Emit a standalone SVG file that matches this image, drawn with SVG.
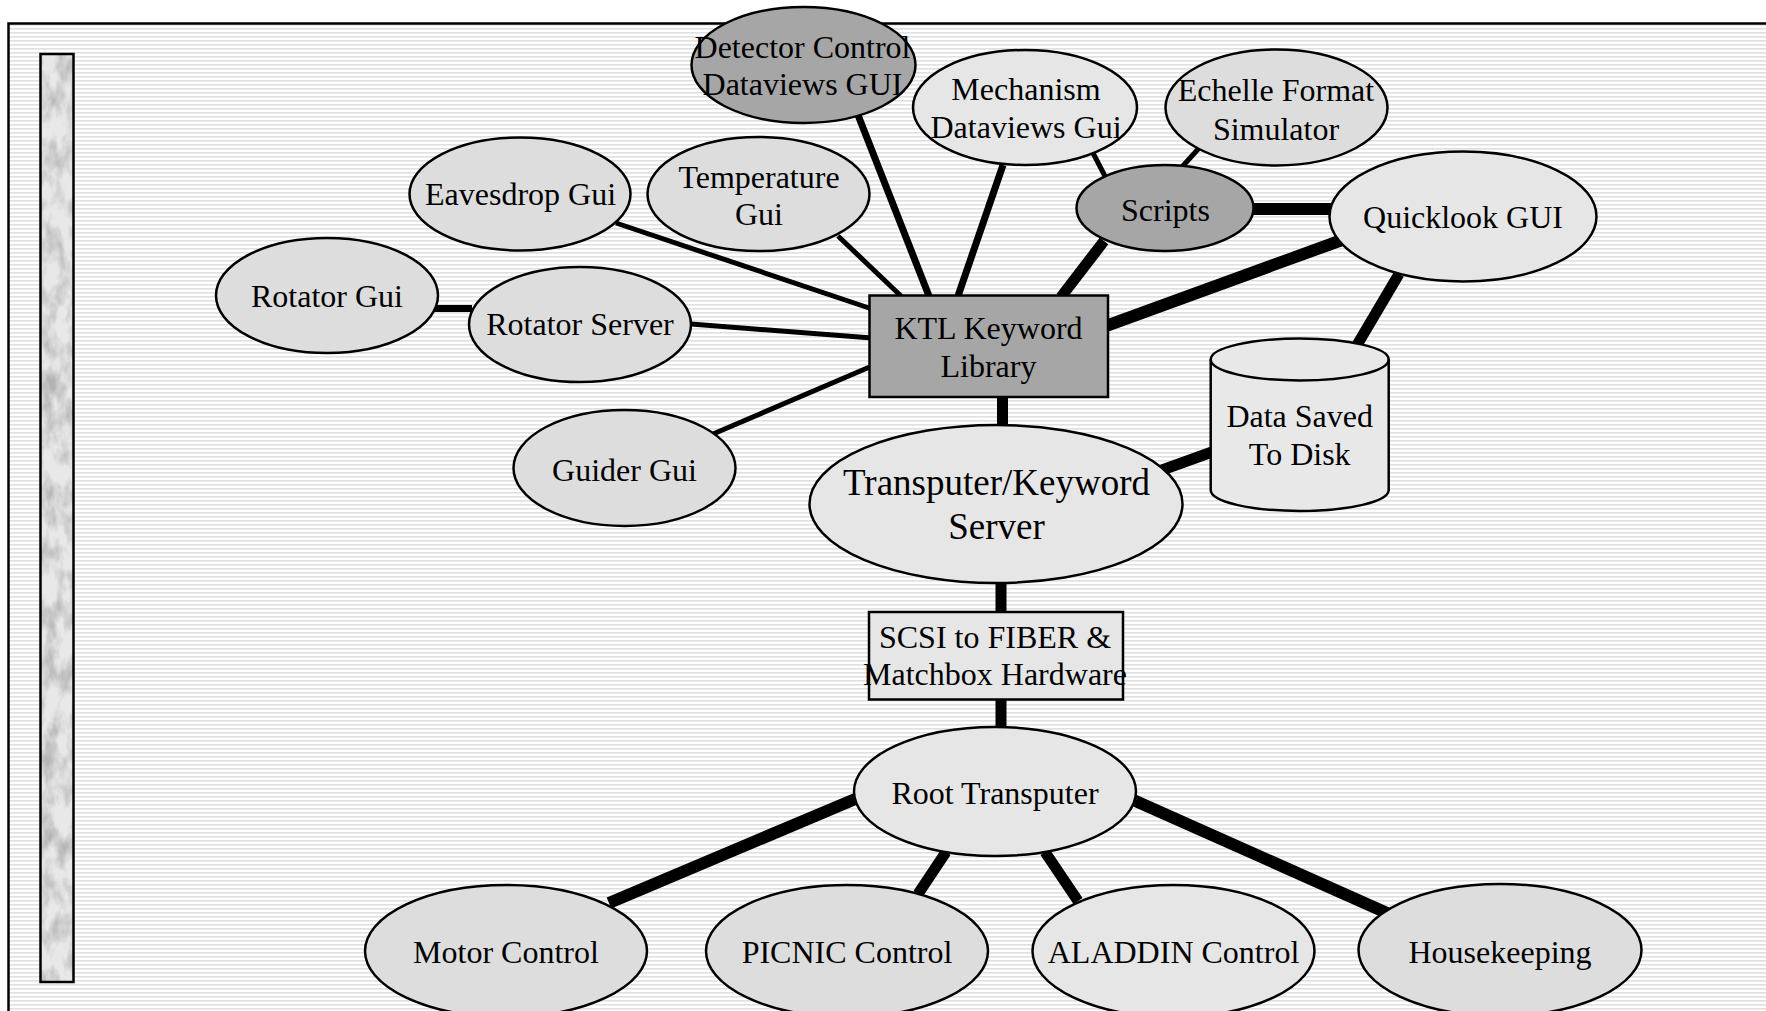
<svg xmlns="http://www.w3.org/2000/svg" width="1766" height="1011" viewBox="0 0 1766 1011">
<style>
  text { font-family: "Liberation Serif", "Times New Roman", serif; font-size: 32px; fill: #000; text-anchor: middle; }
  .big { font-size: 37px; }
  .node { stroke: #000; stroke-width: 2.5; }
  .light { fill: #dddddd; }
  .light2 { fill: #e6e6e6; }
  .dark { fill: #a6a6a6; }
  .c { stroke: #000; fill: none; stroke-linecap: butt; }
  .t1 { stroke-width: 5; }
  .t2 { stroke-width: 7; }
  .t3 { stroke-width: 11; }
  .t4 { stroke-width: 12; }
</style>
<defs>
  <pattern id="stripes" width="8" height="4" patternUnits="userSpaceOnUse">
    <rect width="8" height="4" fill="#ffffff"/>
    <rect y="0" width="8" height="1.6" fill="#e0e0e0"/>
  </pattern>
  <filter id="marble" x="0" y="0" width="100%" height="100%">
    <feTurbulence type="fractalNoise" baseFrequency="0.07 0.035" numOctaves="4" seed="7"/>
    <feColorMatrix type="matrix" values="0 0 0 0 0.45  0 0 0 0 0.45  0 0 0 0 0.45  2.2 0 0 0 -0.85"/>
  </filter>
</defs>

<rect x="0" y="0" width="1766" height="1011" fill="#ffffff"/>
<rect id="frame" x="8.5" y="23.5" width="1780" height="1030" fill="url(#stripes)" stroke="#000" stroke-width="2.5"/>

<g id="sidebar">
  <rect x="40.5" y="54" width="33" height="928" fill="#e8e8e8"/>
  <rect x="40.5" y="54" width="33" height="928" filter="url(#marble)" fill="#000"/>
  <rect x="40.5" y="54" width="33" height="928" fill="none" stroke="#000" stroke-width="2.5"/>
</g>

<g id="connectors">
  <line class="c t1" x1="616" y1="223" x2="872" y2="309"/>
  <line class="c t1" x1="838" y1="236" x2="901" y2="296"/>
  <line class="c t2" x1="858" y1="115" x2="929" y2="296"/>
  <line class="c t2" x1="1003" y1="165" x2="958" y2="296"/>
  <line class="c t1" x1="1093" y1="153" x2="1108" y2="182"/>
  <line class="c t1" x1="1200" y1="147" x2="1181" y2="168"/>
  <line class="c t3" x1="1104" y1="241" x2="1061" y2="297"/>
  <line class="c t4" x1="1250" y1="209" x2="1332" y2="209"/>
  <line class="c t4" x1="1106" y1="326" x2="1342" y2="240"/>
  <line class="c t3" x1="1399" y1="274" x2="1357" y2="345"/>
  <line class="c t2" x1="434" y1="308.5" x2="472" y2="308.5"/>
  <line class="c t1" x1="691" y1="324" x2="872" y2="338"/>
  <line class="c t1" x1="713" y1="434" x2="872" y2="366"/>
  <line class="c t3" x1="1002.5" y1="396" x2="1002.5" y2="428"/>
  <line class="c t3" x1="1162" y1="470" x2="1212" y2="452"/>
  <line class="c t3" x1="1001" y1="582" x2="1001" y2="613"/>
  <line class="c t3" x1="1001" y1="698" x2="1001" y2="729"/>
  <line class="c t4" x1="860" y1="797" x2="609" y2="903"/>
  <line class="c t3" x1="946" y1="852" x2="918" y2="894"/>
  <line class="c t3" x1="1045" y1="852" x2="1078" y2="901"/>
  <line class="c t4" x1="1131" y1="799" x2="1387" y2="913"/>
</g>

<g id="detector-gui">
  <ellipse class="node dark" cx="803.5" cy="65" rx="112" ry="58"/>
  <text x="802.5" y="58">Detector Control</text>
  <text x="802.5" y="95">Dataviews GUI</text>
</g>
<g id="mechanism-gui">
  <ellipse class="node light2" cx="1025" cy="107.5" rx="112" ry="57.5"/>
  <text x="1026" y="100">Mechanism</text>
  <text x="1026" y="138">Dataviews Gui</text>
</g>
<g id="echelle-sim">
  <ellipse class="node light" cx="1276.5" cy="107.5" rx="111" ry="58"/>
  <text x="1276" y="101">Echelle Format</text>
  <text x="1276" y="139.5">Simulator</text>
</g>
<g id="temperature-gui">
  <ellipse class="node light" cx="758.5" cy="194" rx="111" ry="57"/>
  <text x="759" y="187.5">Temperature</text>
  <text x="759" y="224.5">Gui</text>
</g>
<g id="eavesdrop-gui">
  <ellipse class="node light" cx="520" cy="194" rx="110.5" ry="56.5"/>
  <text x="520.5" y="205">Eavesdrop Gui</text>
</g>
<g id="scripts">
  <ellipse class="node dark" cx="1165" cy="208" rx="88.5" ry="43"/>
  <text x="1165.5" y="220.5">Scripts</text>
</g>
<g id="quicklook-gui">
  <ellipse class="node light2" cx="1463" cy="216.5" rx="133.5" ry="65"/>
  <text x="1463" y="227.5">Quicklook GUI</text>
</g>
<g id="rotator-gui">
  <ellipse class="node light" cx="327" cy="295.5" rx="111" ry="57.5"/>
  <text x="327" y="307">Rotator Gui</text>
</g>
<g id="rotator-server">
  <ellipse class="node light" cx="580" cy="324.5" rx="111" ry="57.5"/>
  <text x="580" y="335">Rotator Server</text>
</g>
<g id="guider-gui">
  <ellipse class="node light" cx="624.5" cy="468" rx="111" ry="58"/>
  <text x="624.5" y="481">Guider Gui</text>
</g>
<g id="ktl-library">
  <rect class="node dark" x="869.5" y="295.5" width="238.5" height="101.5"/>
  <text x="988.5" y="338.5">KTL Keyword</text>
  <text x="988.5" y="376.5">Library</text>
</g>
<g id="data-disk">
  <path class="node" fill="#e8e8e8" d="M1210.7,359.5 A89,21 0 0 1 1388.7,359.5 L1388.7,490 A89,21 0 0 1 1210.7,490 Z"/>
  <path class="node" fill="none" d="M1210.7,359.5 A89,21 0 0 0 1388.7,359.5"/>
  <text x="1299.7" y="426.5">Data Saved</text>
  <text x="1299.7" y="465">To Disk</text>
</g>
<g id="transputer-server">
  <ellipse class="node light2" cx="996" cy="504" rx="186.5" ry="79"/>
  <text class="big" x="996.5" y="494.5">Transputer/Keyword</text>
  <text class="big" x="996.5" y="539">Server</text>
</g>
<g id="scsi-hardware">
  <rect class="node light2" x="869" y="612" width="254" height="87.5"/>
  <text x="995" y="647.5">SCSI to FIBER &amp;</text>
  <text x="995" y="685">Matchbox Hardware</text>
</g>
<g id="root-transputer">
  <ellipse class="node light2" cx="995" cy="791.5" rx="141" ry="64.5"/>
  <text x="995" y="804">Root Transputer</text>
</g>
<g id="motor-control">
  <ellipse class="node light" cx="506" cy="951" rx="141" ry="66"/>
  <text x="506" y="963">Motor Control</text>
</g>
<g id="picnic-control">
  <ellipse class="node light" cx="847" cy="951" rx="141" ry="66"/>
  <text x="847" y="963">PICNIC Control</text>
</g>
<g id="aladdin-control">
  <ellipse class="node light2" cx="1173.5" cy="951" rx="141" ry="66"/>
  <text x="1173.5" y="963">ALADDIN Control</text>
</g>
<g id="housekeeping">
  <ellipse class="node light" cx="1500" cy="950" rx="141.5" ry="66"/>
  <text x="1500" y="963">Housekeeping</text>
</g>
</svg>
